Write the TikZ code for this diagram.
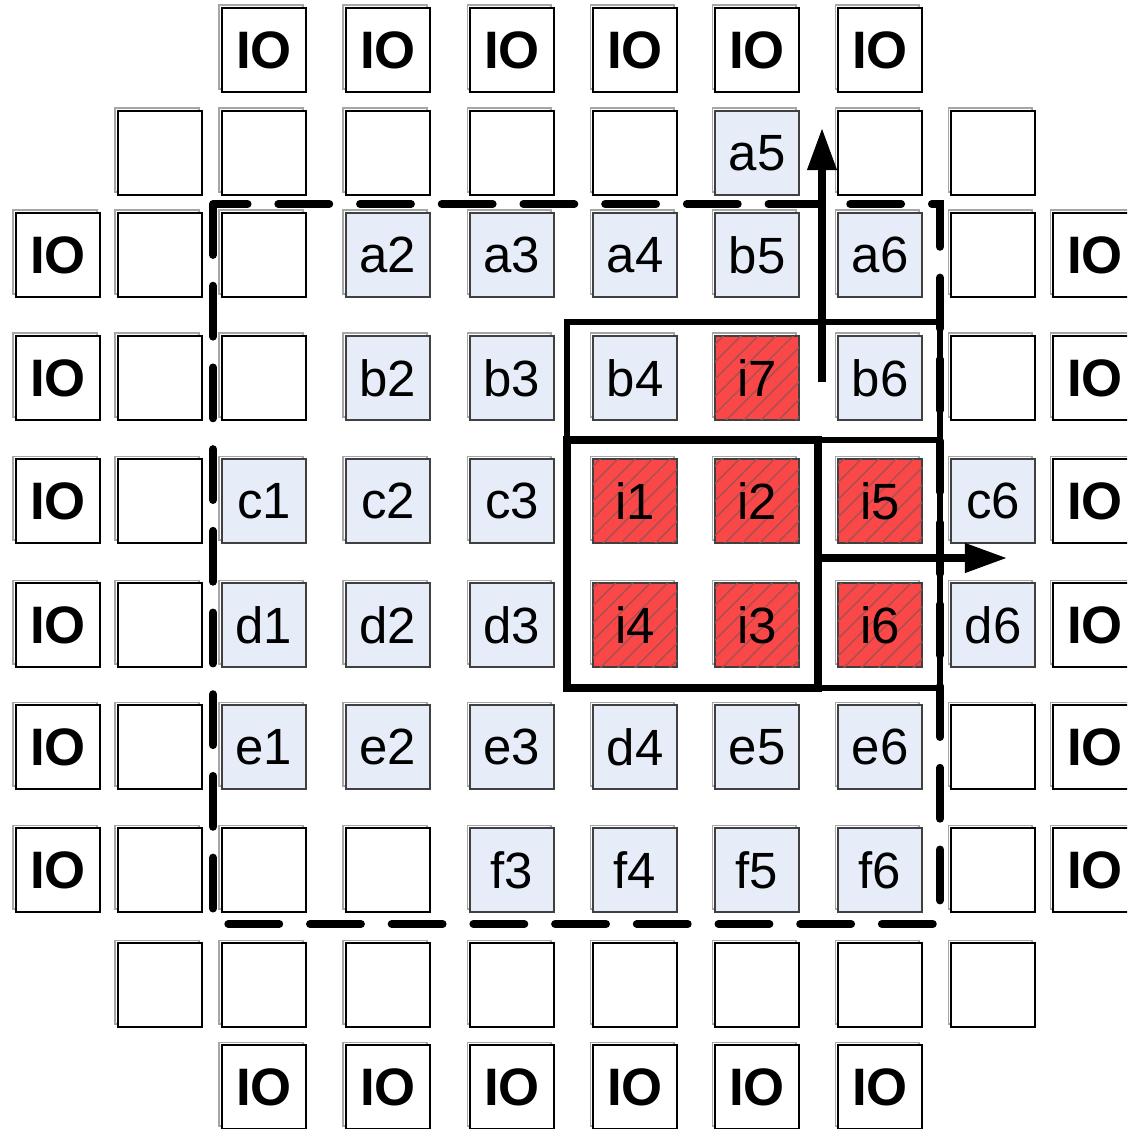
\documentclass[tikz,border=0pt]{standalone}
\usepackage{fontspec}
\setmainfont{Liberation Sans}
\usetikzlibrary{arrows.meta,patterns.meta,shadows}

\definecolor{cellblue}{RGB}{230,237,248}
\definecolor{hotred}{RGB}{250,72,72}
\definecolor{hatch}{RGB}{165,80,80}

\begin{document}
\begin{tikzpicture}[
  x=0.02cm, y=-0.02cm,
  box/.style={draw,line width=0.8pt,minimum size=1.68cm,inner sep=0pt,fill=white,
    copy shadow={shadow xshift=-1.6pt,shadow yshift=1.6pt,draw=gray!70,fill=none}},
  io/.style={box,font=\fontsize{30}{32}\selectfont\bfseries},
  blank/.style={box},
  lbl/.style={box,fill=cellblue,draw=black!75,font=\fontsize{29}{31}\selectfont},
  hot/.style={lbl,fill=hotred,
    postaction={pattern={Lines[angle=45,distance=7pt,line width=0.8pt]},pattern color=hatch}},
  zone/.style={line width=3pt},
  border/.style={line width=4.5pt,dash pattern=on 29pt off 17.5pt,line cap=round},
  flow/.style={line width=4pt,-{Triangle[length=24pt,width=16pt]}}
]
\useasboundingbox (0,0) rectangle (1127,1129);
\clip (0,0) rectangle (1127,1129);

% grid points
\foreach \xx [count=\c from 0] in {58,160,264,388,512,635,757,880,993,1095}
  \foreach \yy [count=\r from 0] in {50,153,255,378,501,625,747,870,985,1087}
    \coordinate (p\r-\c) at (\xx,\yy);

% IO pads
\foreach \c in {2,...,7} {
  \node[io] (n0-\c) at (p0-\c) {IO};
  \node[io] (n9-\c) at (p9-\c) {IO};
}
\foreach \r in {2,...,7} {
  \node[io] (n\r-0) at (p\r-0) {IO};
  \node[io] (n\r-9) at (p\r-9) {IO};
}

% empty cells
\foreach \r/\c in {1/1,1/2,1/3,1/4,1/5,1/7,1/8,
                   8/1,8/2,8/3,8/4,8/5,8/6,8/7,8/8,
                   2/1,3/1,4/1,5/1,6/1,7/1,
                   2/2,3/2,7/2,7/3,
                   2/8,3/8,6/8,7/8}
  \node[blank] (n\r-\c) at (p\r-\c) {};

% named cells
\foreach \r/\c/\t in {1/6/a5,
    2/3/a2,2/4/a3,2/5/a4,2/6/b5,2/7/a6,
    3/3/b2,3/4/b3,3/5/b4,3/7/b6,
    4/2/c1,4/3/c2,4/4/c3,4/8/c6,
    5/2/d1,5/3/d2,5/4/d3,5/8/d6,
    6/2/e1,6/3/e2,6/4/e3,6/5/d4,6/6/e5,6/7/e6,
    7/4/f3,7/5/f4,7/6/f5,7/7/f6}
  \node[lbl] (n\r-\c) at (p\r-\c) {\t};

% hot cells
\foreach \r/\c/\t in {3/6/i7,4/5/i1,4/6/i2,4/7/i5,5/5/i4,5/6/i3,5/7/i6}
  \node[hot] (n\r-\c) at (p\r-\c) {\t};

% regions
\draw[border] (213,204) rectangle (940,924);
\draw[zone] (567,322) rectangle (940,440);
\draw[zone] (818,440) rectangle (940,688);
\draw[zone,line width=4pt] (567,440) rectangle (818,688);
\draw[line width=5pt] (567,688) -- (818,688);

% moves
\coordinate (upfrom) at (822,382);
\coordinate (upto) at (822,128);
\coordinate (rtfrom) at (818,558);
\coordinate (rtto) at (1007,558);
\draw[flow] (upfrom) -- (upto);
\draw[flow] (rtfrom) -- (rtto);
\end{tikzpicture}
\end{document}
